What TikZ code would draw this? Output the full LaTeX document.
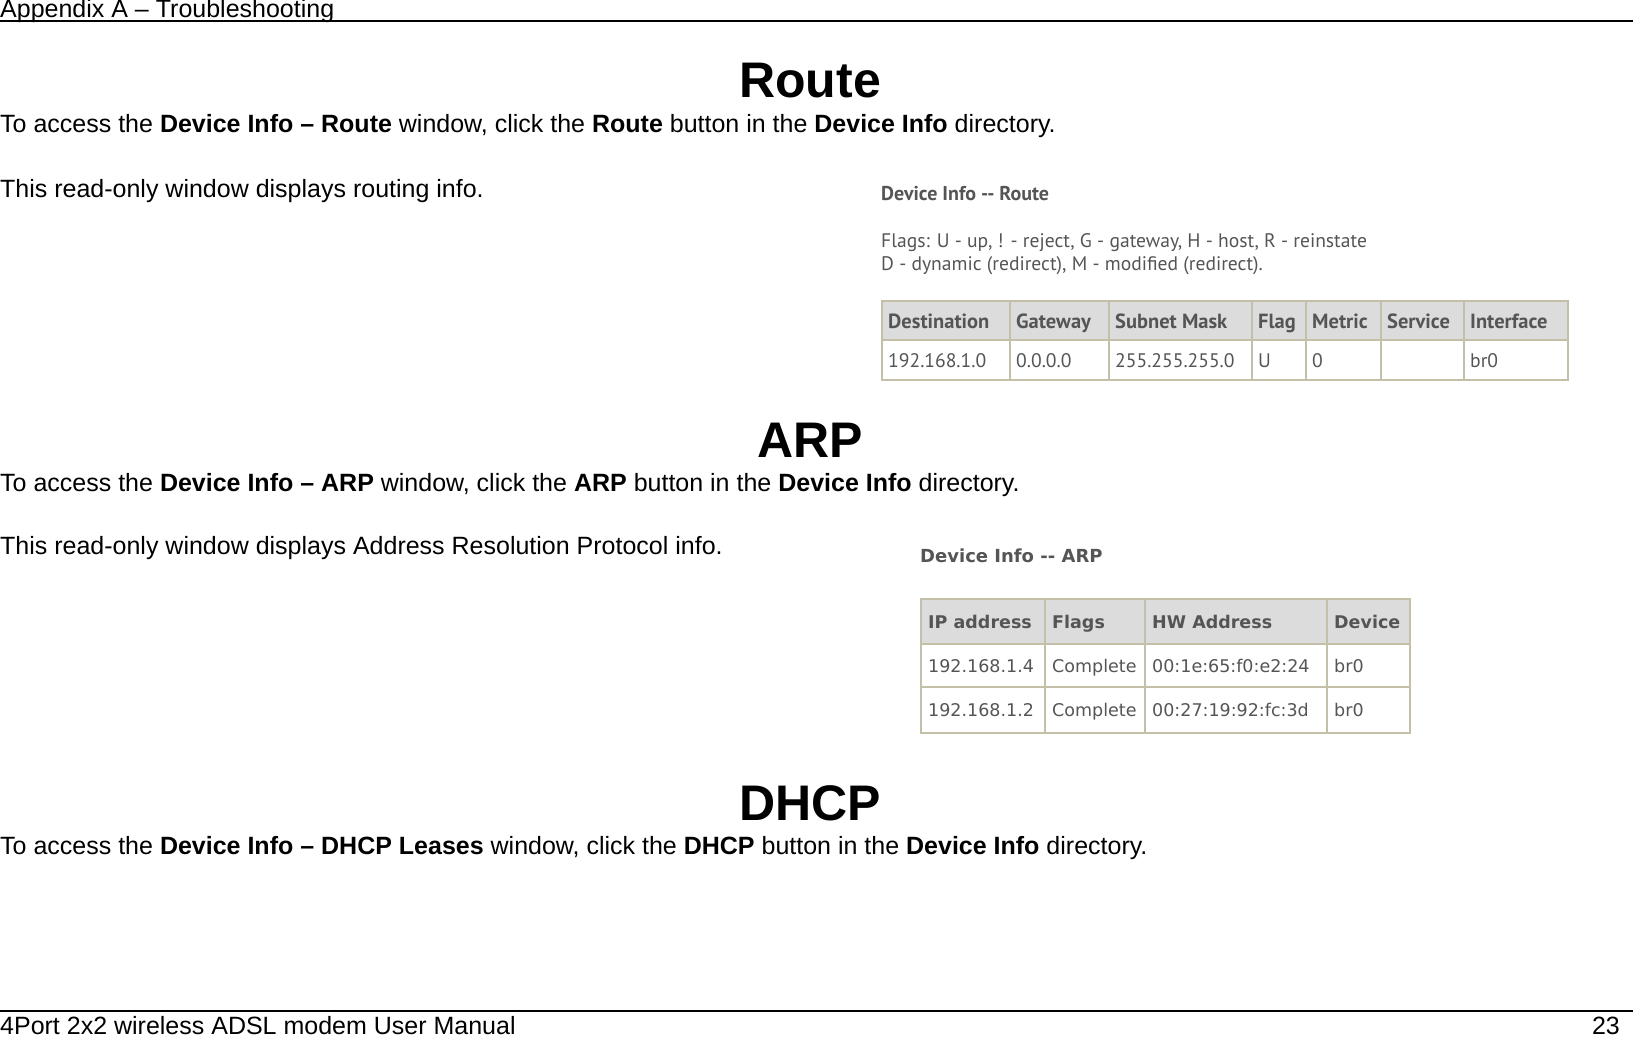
\documentclass[tikz,border=0pt]{standalone}
\usepackage{fontspec}
\setmainfont{Liberation Sans}
\newfontfamily\shot{PT Sans}
\newfontfamily\arpf{DejaVu Sans}
\definecolor{tx}{HTML}{555555}
\definecolor{hd}{HTML}{DCDCDC}
\definecolor{bd}{HTML}{C4C0A8}
\begin{document}
\begin{tikzpicture}[x=1pt,y=-1pt,
  body/.style={anchor=base west,inner sep=0,font=\fontsize{25}{29}\selectfont},
  ttl/.style={inner sep=0,font=\fontsize{50}{56}\selectfont\bfseries},
  cell/.style={anchor=base west,inner sep=0,text=tx}]
\useasboundingbox (0,0) rectangle (1633,1038);
\fill[white] (0,0) rectangle (1633,1038);
% header/footer
\node[body] (hdr) at (0,18) {Appendix A – Troubleshooting};
\draw[line width=1.2pt] (0,21) -- (1633,21);
\draw[line width=1.2pt] (0,1011) -- (1633,1011);
\node[body] (ftr) at (0,1034) {4Port 2x2 wireless ADSL modem User Manual};
\node[anchor=base east,inner sep=0,font=\fontsize{25}{29}\selectfont] (pg) at (1620,1034) {23};
% Route
\node[ttl] (t1) at (810,81) {Route};
\node[body] (l1) at (0,133) {To access the \textbf{Device Info – Route} window, click the \textbf{Route} button in the \textbf{Device Info} directory.};
\node[body] (l2) at (0,197) {This read-only window displays routing info.};
\node[anchor=base west,inner sep=0,text=tx,font=\shot\fontsize{20}{22}\selectfont\bfseries] (rt) at (881,200) {Device Info -- Route};
\node[anchor=base west,inner sep=0,text=tx,font=\shot\fontsize{19.6}{22}\selectfont] (rf1) at (881,247) {Flags: U - up, ! - reject, G - gateway, H - host, R - reinstate};
\node[anchor=base west,inner sep=0,text=tx,font=\shot\fontsize{19.6}{22}\selectfont] (rf2) at (881,270) {D - dynamic (redirect), M - modified (redirect).};
\fill[hd] (882,301) rectangle (1568,340);
\draw[bd,line width=2pt] (882,301) rectangle (1568,380);
\draw[bd,line width=1.5pt] (882,340) -- (1568,340);
\foreach \x in {1010,1109,1252,1306,1381,1464} \draw[bd,line width=1.5pt] (\x,301) -- (\x,380);
\foreach \x/\h/\v in {882/Destination/192.168.1.0,1010/Gateway/0.0.0.0,1109/Subnet Mask/255.255.255.0,1252/Flag/U,1306/Metric/0,1381/Service/,1464/Interface/br0}{
  \node[cell,font=\shot\fontsize{20.5}{22}\selectfont\bfseries] at (\x+6,328) {\h};
  \node[cell,font=\shot\fontsize{19.6}{22}\selectfont] at (\x+6,367) {\v};
}
% ARP
\node[ttl] (t2) at (810,440) {ARP};
\node[body] (l3) at (0,491) {To access the \textbf{Device Info – ARP} window, click the \textbf{ARP} button in the \textbf{Device Info} directory.};
\node[body] (l4) at (0,554) {This read-only window displays Address Resolution Protocol info.};
\node[anchor=base west,inner sep=0,text=tx,font=\arpf\fontsize{18}{22}\selectfont\bfseries] (at) at (920,562) {Device Info -- ARP};
\fill[hd] (921,599) rectangle (1410,644);
\draw[bd,line width=2pt] (921,599) rectangle (1410,733);
\foreach \y in {644,687} \draw[bd,line width=1.5pt] (921,\y) -- (1410,\y);
\foreach \x in {1045,1145,1327} \draw[bd,line width=1.5pt] (\x,599) -- (\x,733);
\foreach \x/\h/\a/\b in {921/IP address/192.168.1.4/192.168.1.2,1045/Flags/Complete/Complete,1145/HW Address/00:1e:65:f0:e2:24/00:27:19:92:fc:3d,1327/Device/br0/br0}{
  \node[cell,font=\arpf\fontsize{17.5}{20}\selectfont\bfseries] at (\x+7,628) {\h};
  \node[cell,font=\arpf\fontsize{17.5}{20}\selectfont] at (\x+7,672) {\a};
  \node[cell,font=\arpf\fontsize{17.5}{20}\selectfont] at (\x+7,716) {\b};
}
% DHCP
\node[ttl] (t3) at (810,803) {DHCP};
\node[body] (l5) at (0,854) {To access the \textbf{Device Info – DHCP Leases} window, click the \textbf{DHCP} button in the \textbf{Device Info} directory.};
\end{tikzpicture}
\end{document}
